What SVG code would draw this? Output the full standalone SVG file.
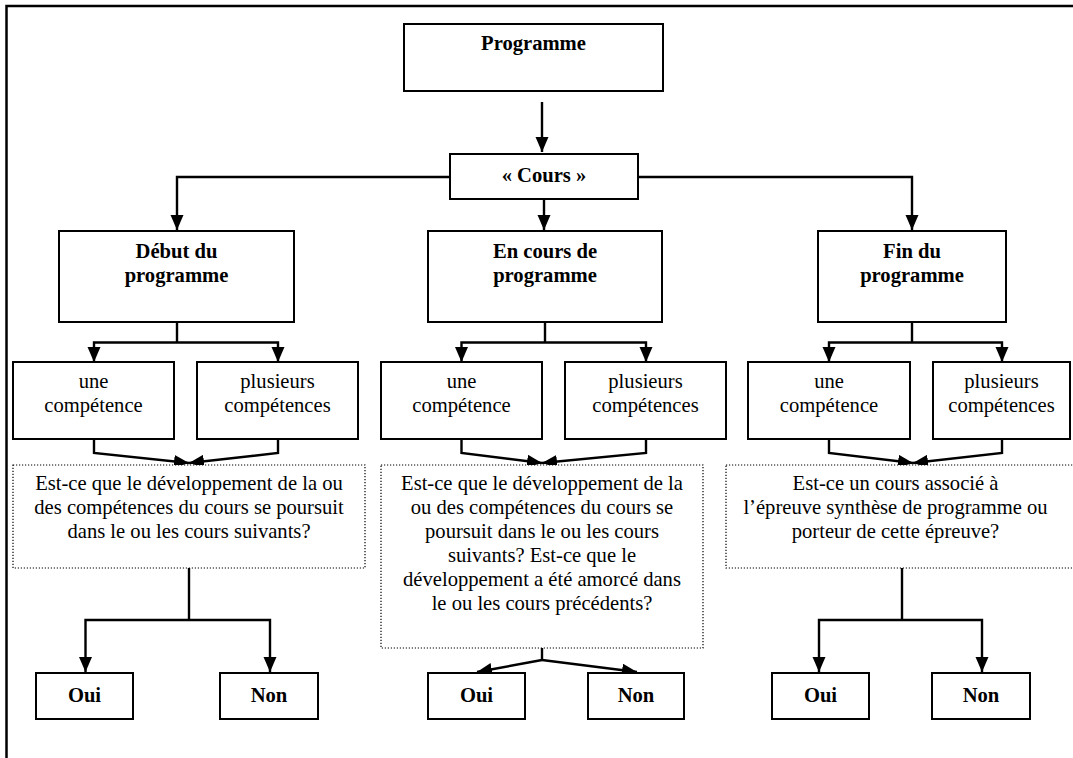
<svg xmlns="http://www.w3.org/2000/svg" width="1073" height="758" viewBox="0 0 1073 758">
<style>
.bg{fill:#ffffff}
.box{fill:#ffffff;stroke:#000;stroke-width:2}
.dot{fill:#ffffff;stroke:#000;stroke-width:1.2;stroke-dasharray:1.2 1.8}
.frame{fill:none;stroke:#000;stroke-width:2.5}
.con{fill:none;stroke:#000;stroke-width:2.4;marker-end:url(#ah)}
.lin{fill:none;stroke:#000;stroke-width:2.4}
text{font-family:"Liberation Serif","Times New Roman",serif;font-size:20.6px;fill:#000;text-anchor:middle}
.b{font-weight:bold}
</style>
<defs>
<marker id="ah" markerUnits="userSpaceOnUse" markerWidth="16" markerHeight="14" refX="15" refY="6.5" orient="auto" viewBox="0 0 16 14">
<path d="M0,0 L15,6.5 L0,13 z" fill="#000"/>
</marker>
</defs>
<rect class="bg" x="0" y="0" width="1073" height="758"/>
<g id="frame">
<path class="frame" d="M6.5,758 V6 H1073"/>
</g>
<g id="connectors">
<path class="con" d="M542,102 V152"/>
<path class="con" d="M450,177 H177 V230"/>
<path class="con" d="M638,177 H912 V230"/>
<path class="con" d="M544,199 V230"/>
<path class="lin" d="M177,322 V342.5"/>
<path class="con" d="M177,342.5 H94 V362"/>
<path class="con" d="M177,342.5 H278 V362"/>
<path class="lin" d="M545,322 V342.5"/>
<path class="con" d="M545,342.5 H461.5 V362"/>
<path class="con" d="M545,342.5 H646 V362"/>
<path class="lin" d="M912,322 V342.5"/>
<path class="con" d="M912,342.5 H829 V362"/>
<path class="con" d="M912,342.5 H1002 V362"/>
<path class="con" d="M94,439 V453 L189,463"/>
<path class="con" d="M278,439 V453 L189,463"/>
<path class="con" d="M461.5,439 V453 L542,463"/>
<path class="con" d="M646,439 V453 L542,463"/>
<path class="con" d="M829,439 V453 L913,463"/>
<path class="con" d="M1002,439 V453 L913,463"/>
<path class="lin" d="M189,568 V620"/>
<path class="con" d="M189,620 H85.5 V672"/>
<path class="con" d="M189,620 H270 V672"/>
<path class="lin" d="M542,648 V660"/>
<path class="con" d="M542,660 L477,672"/>
<path class="con" d="M542,660 L637,672"/>
<path class="lin" d="M902,568 V620"/>
<path class="con" d="M902,620 H819 V672"/>
<path class="con" d="M902,620 H982 V672"/>
</g>
<g id="programme">
<rect class="box" x="404" y="24" width="259" height="67"/>
<text class="b" x="533.5" y="50">Programme</text>
</g>
<g id="cours">
<rect class="box" x="450" y="154" width="188" height="45"/>
<text class="b" x="544" y="182">« Cours »</text>
</g>
<g id="debut">
<rect class="box" x="59" y="231" width="235" height="91"/>
<text class="b" x="176.5" y="258">Début du</text>
<text class="b" x="176.5" y="282">programme</text>
</g>
<g id="encours">
<rect class="box" x="428" y="231" width="234" height="91"/>
<text class="b" x="545" y="258">En cours de</text>
<text class="b" x="545" y="282">programme</text>
</g>
<g id="fin">
<rect class="box" x="818" y="231" width="188" height="91"/>
<text class="b" x="912" y="258">Fin du</text>
<text class="b" x="912" y="282">programme</text>
</g>
<g id="une1">
<rect class="box" x="13" y="362" width="161" height="77"/>
<text x="93.5" y="388">une</text>
<text x="93.5" y="412">compétence</text>
</g>
<g id="plus1">
<rect class="box" x="197" y="362" width="161" height="77"/>
<text x="277.5" y="388">plusieurs</text>
<text x="277.5" y="412">compétences</text>
</g>
<g id="une2">
<rect class="box" x="381" y="362" width="161" height="77"/>
<text x="461.5" y="388">une</text>
<text x="461.5" y="412">compétence</text>
</g>
<g id="plus2">
<rect class="box" x="565" y="362" width="161" height="77"/>
<text x="645.5" y="388">plusieurs</text>
<text x="645.5" y="412">compétences</text>
</g>
<g id="une3">
<rect class="box" x="748" y="362" width="162" height="77"/>
<text x="829" y="388">une</text>
<text x="829" y="412">compétence</text>
</g>
<g id="plus3">
<rect class="box" x="933" y="362" width="137" height="77"/>
<text x="1001.5" y="388">plusieurs</text>
<text x="1001.5" y="412">compétences</text>
</g>
<g id="question1">
<rect class="dot" x="13" y="465" width="352" height="103"/>
<text x="189" y="490">Est-ce que le développement de la ou</text>
<text x="189" y="514">des compétences du cours se poursuit</text>
<text x="189" y="538">dans le ou les cours suivants?</text>
</g>
<g id="question2">
<rect class="dot" x="381" y="465" width="322" height="183"/>
<text x="542" y="490">Est-ce que le développement de la</text>
<text x="542" y="514">ou des compétences du cours se</text>
<text x="542" y="538">poursuit dans le ou les cours</text>
<text x="542" y="562">suivants? Est-ce que le</text>
<text x="542" y="586">développement a été amorcé dans</text>
<text x="542" y="610">le ou les cours précédents?</text>
</g>
<g id="question3">
<rect class="dot" x="726" y="465" width="360" height="103"/>
<text x="895.5" y="490">Est-ce un cours associé à</text>
<text x="895.5" y="514">l’épreuve synthèse de programme ou</text>
<text x="895.5" y="538">porteur de cette épreuve?</text>
</g>
<g id="oui1">
<rect class="box" x="36" y="673" width="97" height="46"/>
<text class="b" x="84.5" y="702">Oui</text>
</g>
<g id="non1">
<rect class="box" x="220" y="673" width="98" height="46"/>
<text class="b" x="269" y="702">Non</text>
</g>
<g id="oui2">
<rect class="box" x="428" y="673" width="97" height="46"/>
<text class="b" x="476.5" y="702">Oui</text>
</g>
<g id="non2">
<rect class="box" x="588" y="673" width="96" height="46"/>
<text class="b" x="636" y="702">Non</text>
</g>
<g id="oui3">
<rect class="box" x="772" y="673" width="97" height="46"/>
<text class="b" x="820.5" y="702">Oui</text>
</g>
<g id="non3">
<rect class="box" x="932" y="673" width="98" height="46"/>
<text class="b" x="981" y="702">Non</text>
</g>
</svg>
